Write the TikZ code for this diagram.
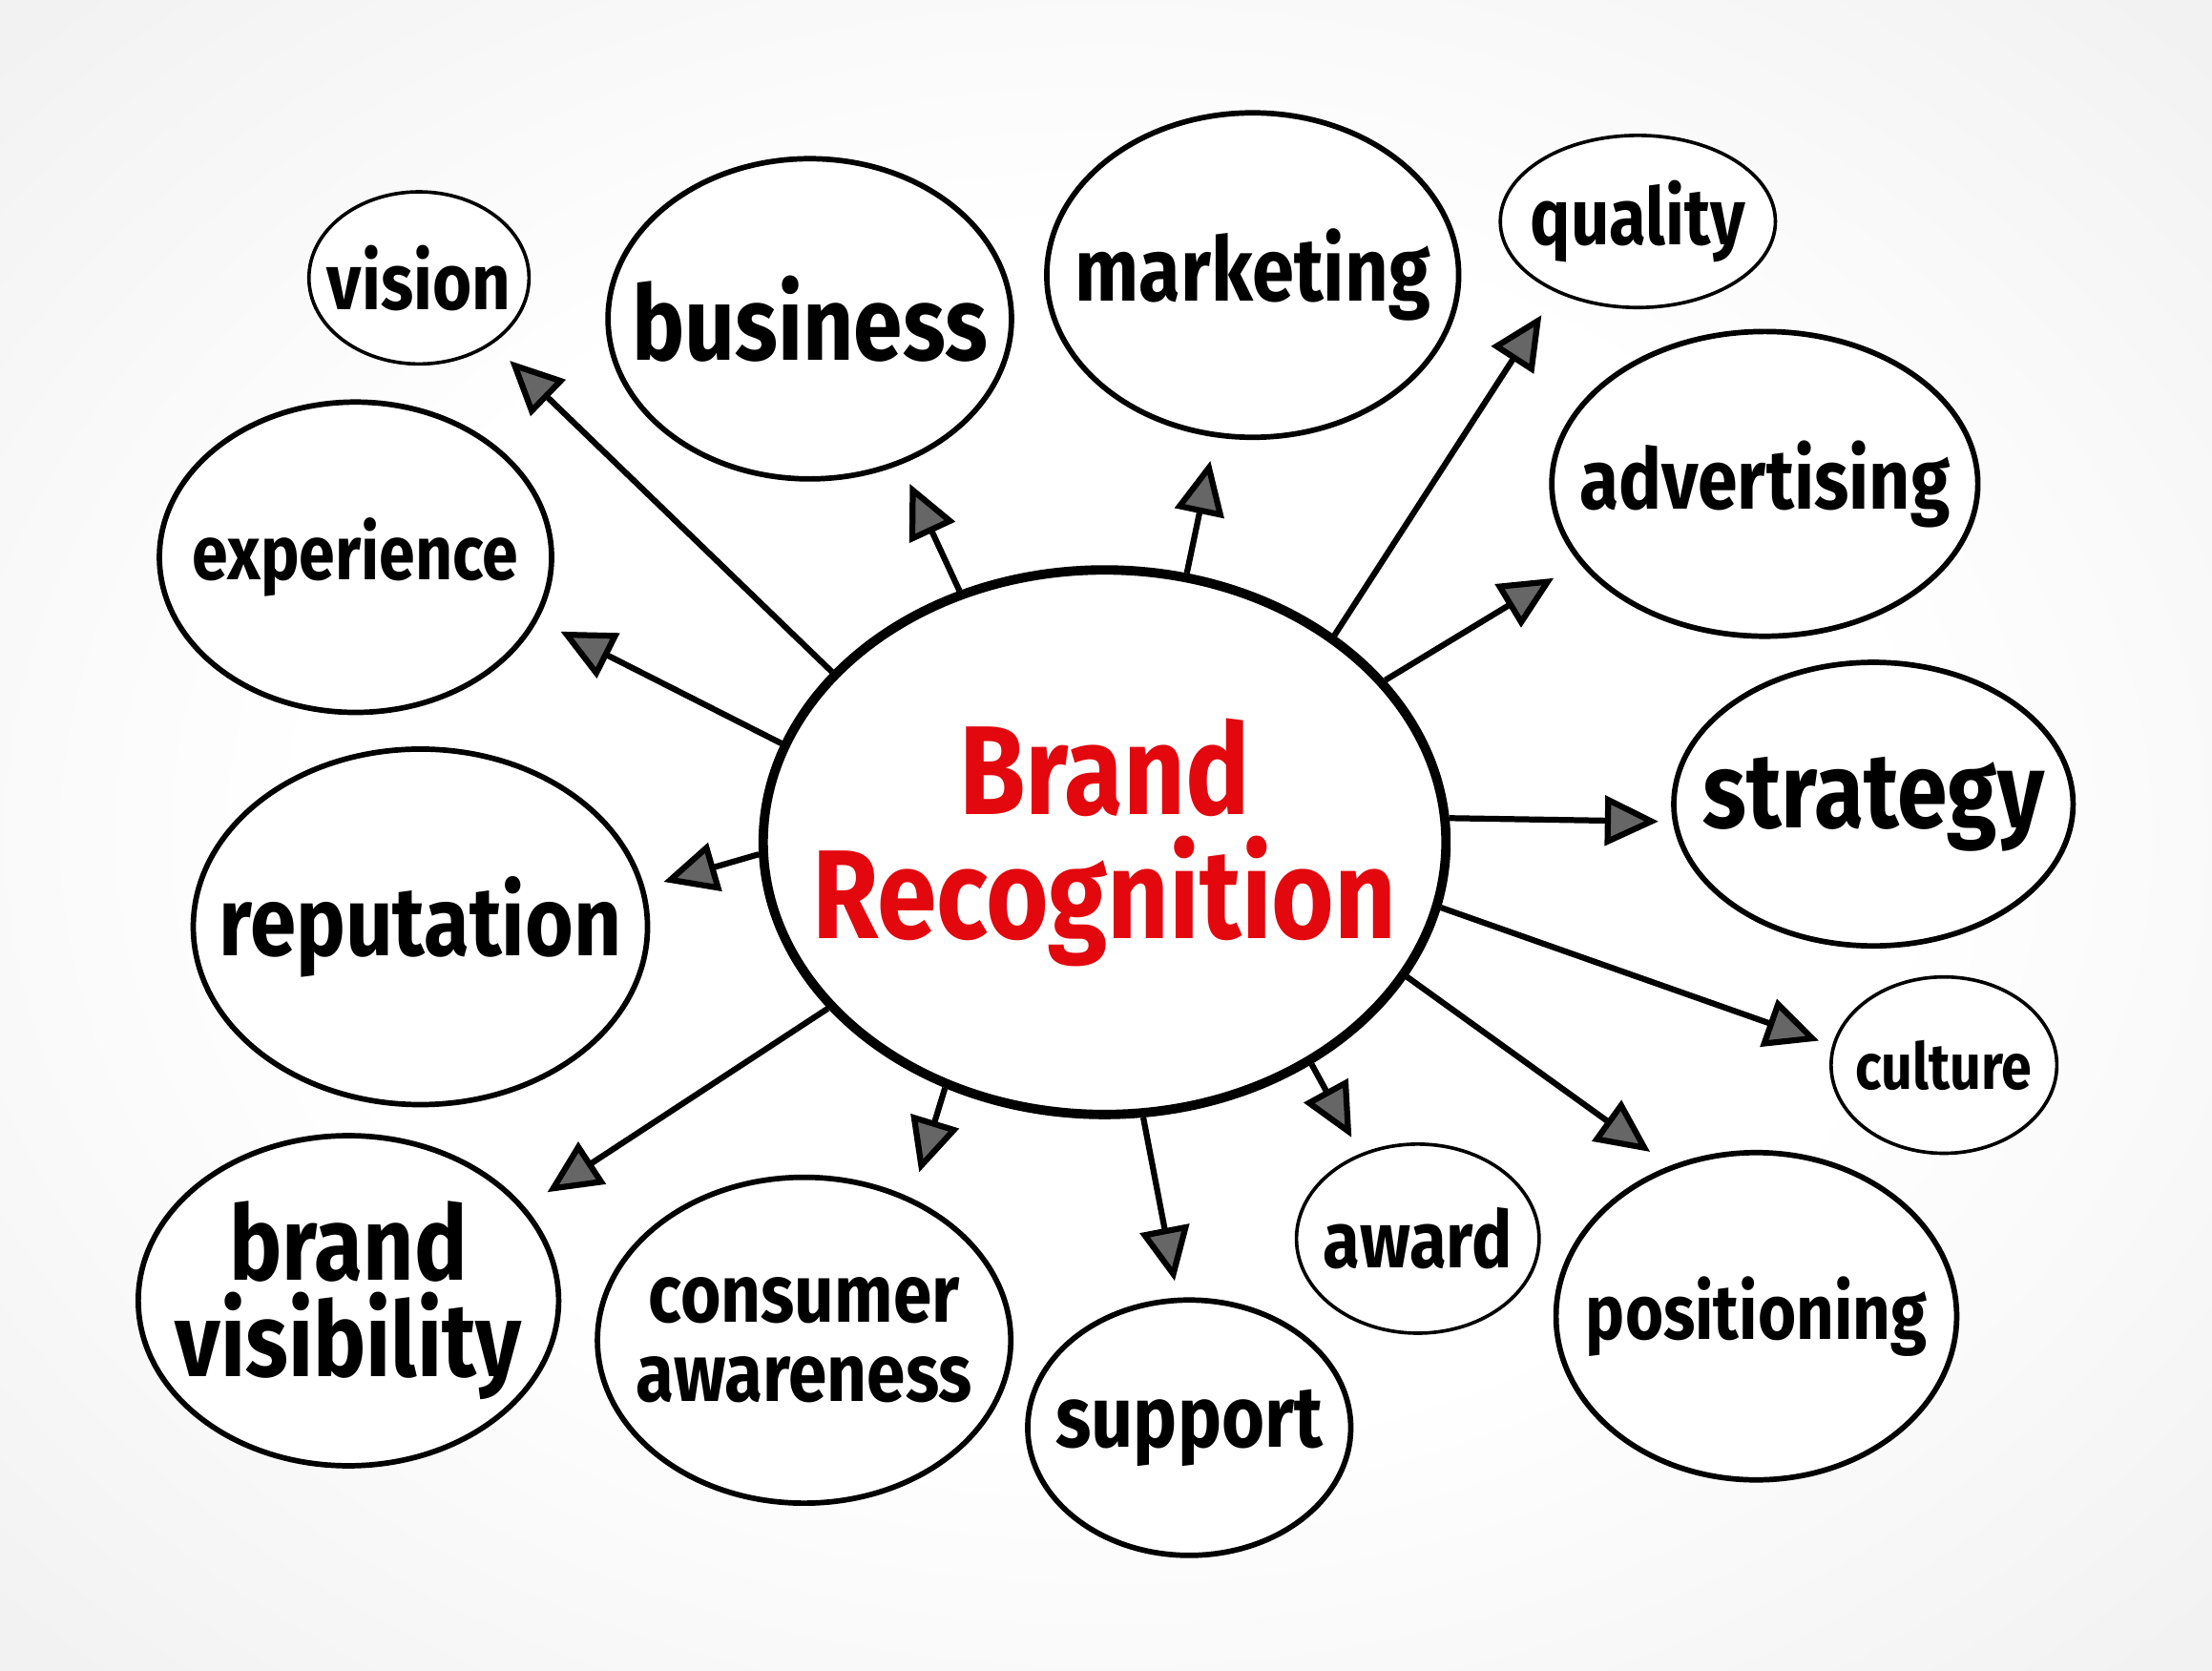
\documentclass[tikz,border=0pt]{standalone}
\usepackage{fontspec}
\setmainfont{Fira Sans}
\newfontfamily\hand[FakeStretch=0.85]{Fira Sans}
\usepackage{xcolor}
\usetikzlibrary{shapes.geometric,arrows.meta}

\definecolor{markred}{RGB}{226,8,14}
\newcommand\wsize[2]{\hand\bfseries\fontsize{#1}{#2}\selectfont}
\pgfdeclareradialshading{paper}{\pgfpoint{0cm}{0cm}}{color(0bp)=(white); color(18bp)=(white); color(34bp)=(black!5); color(50bp)=(black!5)}

\begin{document}
\begin{tikzpicture}[
    bubble/.style={ellipse, draw, line width=1.1pt, fill=white, inner sep=0pt},
    small/.style={bubble, line width=0.7pt},
    hub/.style={bubble, line width=1.9pt},
    every label/.style={align=center, inner sep=0pt},
    line/.style={draw, line width=1.2pt, -{Triangle[length=3.8mm, width=3.5mm, fill=black!60]}}]

    \shade[shading=paper] (0,0) rectangle (15.68,11.84);

    % centre
    \node [hub, minimum width=4.84cm, minimum height=3.86cm, label={[font=\wsize{25.5pt}{25pt}, text=markred]center:{Brand\\Recognition}}] (brand) at (7.83,5.87) {};

    % topics round it
    \node [small, minimum width=1.56cm, minimum height=1.22cm, label={[font=\wsize{16pt}{16pt}]center:vision}] (vision) at (2.97,9.87) {};
    \node [bubble, minimum width=2.86cm, minimum height=2.27cm, label={[font=\wsize{21pt}{21pt}]center:business}] (business) at (5.74,9.58) {};
    \node [bubble, minimum width=2.92cm, minimum height=2.30cm, label={[font=\wsize{18pt}{18pt}]center:marketing}] (marketing) at (8.88,9.89) {};
    \node [small, minimum width=1.95cm, minimum height=1.22cm, label={[font=\wsize{16pt}{16pt}]center:quality}] (quality) at (11.61,10.27) {};
    \node [bubble, minimum width=3.02cm, minimum height=2.16cm, label={[font=\wsize{17pt}{17pt}]center:advertising}] (advertising) at (12.51,8.41) {};
    \node [bubble, minimum width=2.83cm, minimum height=2.01cm, label={[font=\wsize{21.5pt}{21.5pt}]center:strategy}] (strategy) at (13.28,6.14) {};
    \node [small, minimum width=1.60cm, minimum height=1.25cm, label={[font=\wsize{13pt}{13pt}]center:culture}] (culture) at (13.78,4.29) {};
    \node [bubble, minimum width=2.84cm, minimum height=2.32cm, label={[font=\wsize{15.6pt}{15.6pt}]center:positioning}] (positioning) at (12.45,2.51) {};
    \node [small, minimum width=1.72cm, minimum height=1.34cm, label={[font=\wsize{16pt}{16pt}]center:award}] (award) at (10.05,3.06) {};
    \node [bubble, minimum width=2.29cm, minimum height=1.81cm, label={[font=\wsize{17.5pt}{17.5pt}]center:support}] (support) at (8.43,1.72) {};
    \node [bubble, minimum width=2.93cm, minimum height=2.31cm, label={[font=\wsize{16.5pt}{16pt}]center:{consumer\\awareness}}] (consumer) at (5.70,2.34) {};
    \node [bubble, minimum width=2.98cm, minimum height=2.34cm, label={[font=\wsize{21pt}{19.5pt}]center:{brand\\visibility}}] (visibility) at (2.47,2.62) {};
    \node [bubble, minimum width=3.22cm, minimum height=2.52cm, label={[font=\wsize{19.7pt}{19.7pt}]center:reputation}] (reputation) at (2.98,5.27) {};
    \node [bubble, minimum width=2.78cm, minimum height=2.20cm, label={[font=\wsize{15.4pt}{15.4pt}]center:experience}] (experience) at (2.52,7.89) {};

    % arrows out of the centre
    \path [line, shorten >=1.7mm] (brand.148.4) -- (vision.-42.2);
    \path [line, shorten >=1.5mm] (brand.120.5) -- (business.-58.9);
    \path [line, shorten >=1.7mm] (brand.73.2) -- (marketing.-103.2);
    \path [line, shorten >=1.9mm] (brand.42.7) -- (quality.-139.7);
    \path [line, shorten >=2.1mm] (brand.30.5) -- (advertising.-157.5);
    \path [line, shorten >=1.0mm] (brand.4.4) -- (strategy.-175);
    \path [line, shorten >=1.0mm] (brand.-11.5) -- (culture.170.1);
    \path [line, shorten >=1.7mm] (brand.-24.2) -- (positioning.120.2);
    \path [line, shorten >=1.3mm] (brand.-47.4) -- (award.124.4);
    \path [line, shorten >=1.2mm] (brand.-82) -- (support.95.6);
    \path [line, shorten >=1.9mm] (brand.-123.8) -- (consumer.53.3);
    \path [line, shorten >=1.9mm] (brand.-149.5) -- (visibility.28.6);
    \path [line, shorten >=1.4mm] (brand.-178.3) -- (reputation.10.2);
    \path [line, shorten >=1.8mm] (brand.163.1) -- (experience.-19.5);
\end{tikzpicture}
\end{document}
